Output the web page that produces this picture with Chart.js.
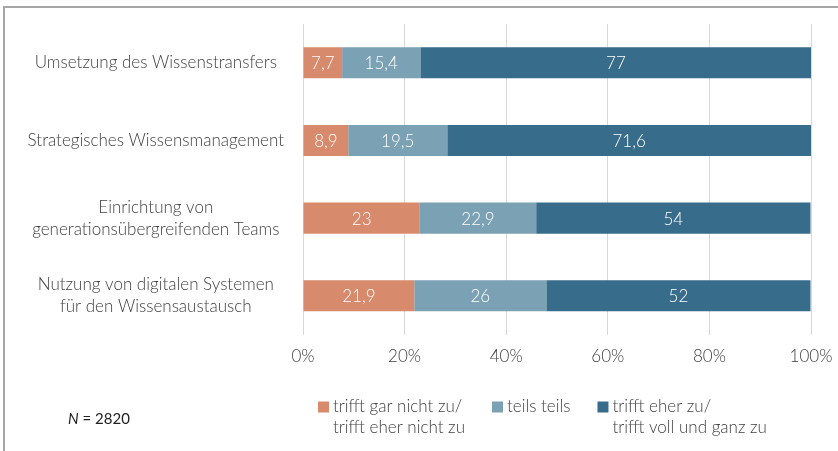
<!DOCTYPE html>
<html><head><meta charset="utf-8">
<script src="https://cdn.jsdelivr.net/npm/chart.js@4/dist/chart.umd.min.js"></script>
<style>
html,body{margin:0;padding:0;background:#fff;}
#wrap{position:relative;width:838px;height:451px;overflow:hidden;background:#fff;}
#frame{position:absolute;left:3px;top:6px;width:900px;height:500px;border-top:2px solid #a6a6a6;border-left:2px solid #a6a6a6;}
canvas{position:absolute;left:0;top:0;}
</style></head><body>
<div id="wrap"><div id="frame"></div><canvas id="c" width="838" height="451"></canvas></div>
<script>
const categories = [
  'Umsetzung des Wissenstransfers',
  'Strategisches Wissensmanagement',
  ['Einrichtung von', 'generationsübergreifenden Teams'],
  ['Nutzung von digitalen Systemen', 'für den Wissensaustausch']
];
const seriesNames = [
  ['trifft gar nicht zu/', 'trifft eher nicht zu'],
  ['teils teils'],
  ['trifft eher zu/', 'trifft voll und ganz zu']
];
const lowValues = [7.7, 8.9, 23, 21.9];
const midValues = [15.4, 19.5, 22.9, 26];
const highValues = [77, 71.6, 54, 52];
const xTicks = [0, 20, 40, 60, 80, 100];
const noteText = ['N', ' = 2820'];

const COLORS = ['#D88A6C', '#7BA1B4', '#386C8B'];
const FONT = "Lato, 'Open Sans', sans-serif";
const W = 300;
const TEXT = '#404040';

const valueLabels = {
  id: 'valueLabels',
  afterDatasetsDraw(chart) {
    const ctx = chart.ctx;
    ctx.save();
    ctx.font = W + ' 17px ' + FONT;
    ctx.fillStyle = '#ffffff';
    ctx.textAlign = 'center';
    ctx.textBaseline = 'middle';
    chart.data.datasets.forEach((ds, di) => {
      const meta = chart.getDatasetMeta(di);
      meta.data.forEach((el, i) => {
        const p = el.getCenterPoint();
        ctx.fillText(String(ds.data[i]).replace('.', ','), p.x, p.y + 1);
      });
    });
    ctx.restore();
  }
};

const customLegend = {
  id: 'customLegend',
  afterDraw(chart) {
    const ctx = chart.ctx;
    ctx.save();
    ctx.font = W + ' 17px ' + FONT;
    ctx.textBaseline = 'middle';
    ctx.textAlign = 'left';
    let x = 318;
    const y0 = 407, lh = 21, box = 11;
    chart.data.datasets.forEach((ds, di) => {
      ctx.fillStyle = ds.backgroundColor;
      ctx.fillRect(x, y0 - box / 2, box, box);
      ctx.fillStyle = TEXT;
      let w = 0;
      seriesNames[di].forEach((line, li) => {
        ctx.fillText(line, x + 15, y0 + li * lh);
        w = Math.max(w, ctx.measureText(line).width);
      });
      x += 15 + w + 27;
    });
    ctx.font = 'italic 15px ' + FONT;
    ctx.fillStyle = '#222';
    ctx.fillText(noteText[0], 68, 419);
    const nw = ctx.measureText(noteText[0]).width;
    ctx.font = '15px ' + FONT;
    ctx.fillText(noteText[1], 68 + nw, 419);
    ctx.restore();
  }
};

new Chart(document.getElementById('c'), {
  type: 'bar',
  data: {
    labels: categories,
    datasets: [
      { label: seriesNames[0].join(' '), data: lowValues, backgroundColor: COLORS[0] },
      { label: seriesNames[1].join(' '), data: midValues, backgroundColor: COLORS[1] },
      { label: seriesNames[2].join(' '), data: highValues, backgroundColor: COLORS[2] }
    ]
  },
  options: {
    indexAxis: 'y',
    responsive: false,
    animation: false,
    devicePixelRatio: 1,
    barPercentage: 0.4,
    categoryPercentage: 1,
    layout: { padding: { left: 10, top: 24, right: 27, bottom: 72 } },
    plugins: { legend: { display: false }, tooltip: { enabled: false } },
    scales: {
      x: {
        stacked: true, min: 0, max: 100,
        afterBuildTicks(s) { s.ticks = xTicks.map(v => ({ value: v })); },
        afterFit(s) { s.paddingLeft = 0; s.paddingRight = 0; },
        ticks: { callback: v => v + '%', font: { family: FONT, size: 17, weight: W }, color: TEXT, padding: 12, maxRotation: 0 },
        grid: { color: '#d9d9d9', drawTicks: false, lineWidth: 1 },
        border: { display: false }
      },
      y: {
        stacked: true,
        afterFit(s) { s.width = 303 - 10; s.paddingTop = 0; s.paddingBottom = 0; },
        ticks: { font: { family: FONT, size: 17, weight: W, lineHeight: 1.3 }, color: TEXT, crossAlign: 'center', padding: 19 },
        grid: { display: false, drawTicks: false },
        border: { display: false }
      }
    }
  },
  plugins: [valueLabels, customLegend]
});
</script></body></html>
